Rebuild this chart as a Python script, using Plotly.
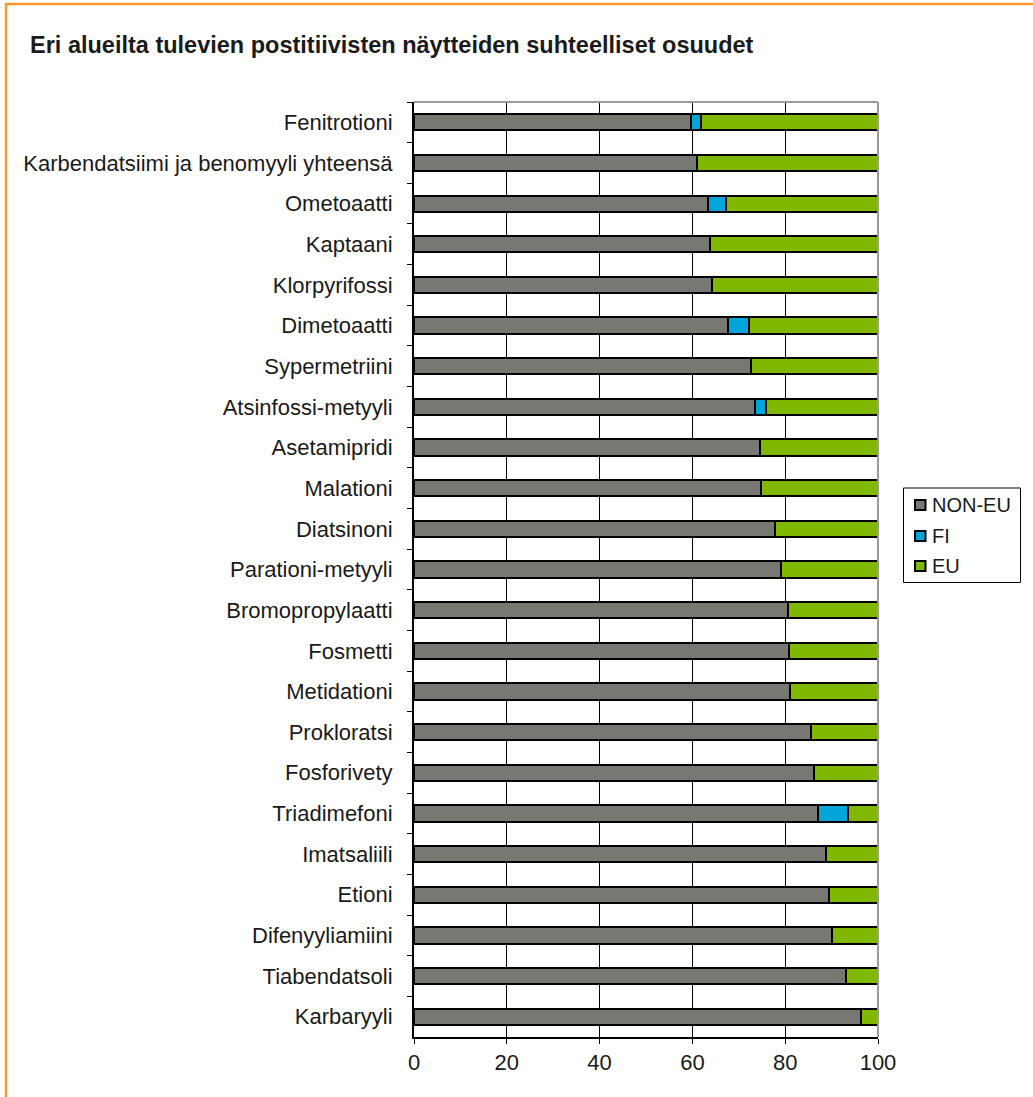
import plotly.graph_objects as go

# Share (%) of positive samples by region of origin, per pesticide
categories = [
    "Fenitrotioni", "Karbendatsiimi ja benomyyli yhteensä", "Ometoaatti",
    "Kaptaani", "Klorpyrifossi", "Dimetoaatti", "Sypermetriini",
    "Atsinfossi-metyyli", "Asetamipridi", "Malationi", "Diatsinoni",
    "Parationi-metyyli", "Bromopropylaatti", "Fosmetti", "Metidationi",
    "Prokloratsi", "Fosforivety", "Triadimefoni", "Imatsaliili", "Etioni",
    "Difenyyliamiini", "Tiabendatsoli", "Karbaryyli",
]
non_eu = [59.7, 61.0, 63.3, 63.8, 64.3, 67.6, 72.6, 73.4, 74.6, 74.8, 77.9,
          79.0, 80.6, 80.9, 81.1, 85.5, 86.3, 87.0, 88.8, 89.4, 90.0, 93.2, 96.3]
fi = [2.2, 0, 3.9, 0, 0, 4.6, 0, 2.4, 0, 0, 0,
      0, 0, 0, 0, 0, 0, 6.6, 0, 0, 0, 0, 0]
eu = [38.1, 39.0, 32.8, 36.2, 35.7, 27.8, 27.4, 24.2, 25.4, 25.2, 22.1,
      21.0, 19.4, 19.1, 18.9, 14.5, 13.7, 6.4, 11.2, 10.6, 10.0, 6.8, 3.7]
x_ticks = [0, 20, 40, 60, 80, 100]
series_names = ["NON-EU", "FI", "EU"]
series_colors = ["#787872", "#00a6da", "#80b800"]

W, H = 1033, 1097
L, R, T, B = 414, 155, 102, 60
pw, ph = W - L - R, H - T - B
font = "Liberation Sans, Arial, sans-serif"
ink = "#1a1a1a"


def px_x(p):
    return (p - L) / pw


def px_y(p):
    return (H - B - p) / ph


fig = go.Figure()
for name, vals, color in zip(series_names, [non_eu, fi, eu], series_colors):
    fig.add_trace(go.Bar(
        y=categories, x=vals, name=name, orientation="h",
        marker=dict(color=color, line=dict(color="#000000", width=2)),
    ))

shapes = [
    # gray top and right plot border
    dict(type="line", xref="paper", yref="paper", x0=0, x1=1, y0=1, y1=1,
         line=dict(color="#9a9a9a", width=2)),
    dict(type="line", xref="paper", yref="paper", x0=1, x1=1, y0=0, y1=1,
         line=dict(color="#9a9a9a", width=2)),
    # orange frame around the chart
    dict(type="rect", xref="paper", yref="paper",
         x0=px_x(6), x1=px_x(W + 20), y0=px_y(4), y1=px_y(H + 20),
         line=dict(color="#f79a2a", width=2.5), layer="above"),
    # legend box
    dict(type="rect", xref="paper", yref="paper",
         x0=px_x(903.5), x1=px_x(1020.5), y0=px_y(488), y1=px_y(582.5),
         line=dict(color="#000000", width=1), fillcolor="#ffffff"),
]
annotations = [dict(
    text="<b>Eri alueilta tulevien postitiivisten näytteiden suhteelliset osuudet</b>",
    xref="paper", yref="paper", x=px_x(28), y=px_y(45),
    xanchor="left", yanchor="middle", showarrow=False,
    font=dict(family=font, size=23.5, color=ink),
)]

# legend entries: small outlined squares with labels
legend_rows = [505, 536, 566]
for name, color, yc in zip(series_names, series_colors, legend_rows):
    shapes.append(dict(
        type="rect", xref="paper", yref="paper",
        x0=px_x(915), x1=px_x(925.5), y0=px_y(yc - 5), y1=px_y(yc + 5),
        line=dict(color="#000000", width=2), fillcolor=color,
    ))
    annotations.append(dict(
        text=name, xref="paper", yref="paper", x=px_x(930), y=px_y(yc),
        xanchor="left", yanchor="middle", showarrow=False,
        font=dict(family=font, size=20, color=ink),
    ))

fig.update_layout(
    width=W, height=H,
    margin=dict(l=L, r=R, t=T, b=B, autoexpand=False),
    barmode="stack", bargap=0.6,
    plot_bgcolor="#ffffff", paper_bgcolor="#ffffff",
    font=dict(family=font, size=22, color=ink),
    showlegend=False,
    annotations=annotations,
    shapes=shapes,
)

fig.update_xaxes(
    range=[0, 100], tickvals=x_ticks, showgrid=True, gridcolor="#000000",
    gridwidth=1, zeroline=False, showline=True, linecolor="#000000",
    linewidth=2, ticks="outside", ticklen=5, tickcolor="#000000",
    tickfont=dict(size=22), fixedrange=True,
)
fig.update_yaxes(
    autorange="reversed", showline=True, linecolor="#000000", linewidth=2,
    ticks="outside", ticklen=5, tickcolor="#000000", tickson="boundaries",
    showgrid=False, ticklabelstandoff=15, tickfont=dict(size=22),
    fixedrange=True,
)

fig.write_html("out.html")
